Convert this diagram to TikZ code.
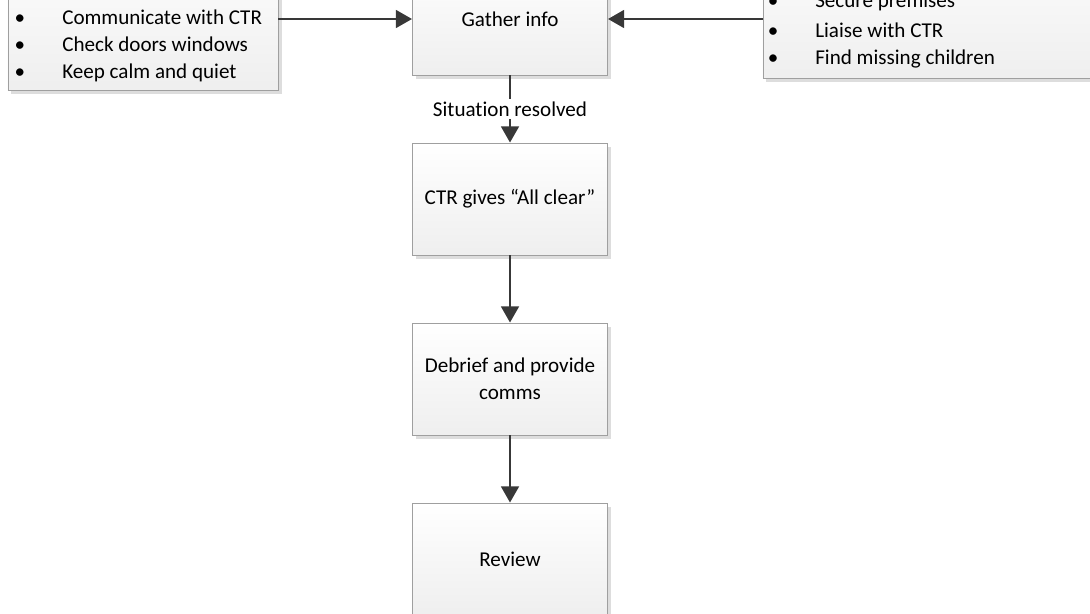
\documentclass[tikz,border=0pt]{standalone}
\usepackage{fontspec}
\setmainfont{Carlito}[Ligatures=NoCommon]
\usetikzlibrary{arrows.meta,shadows}

\tikzset{
  stepbox/.style={draw=gray!75, line width=0.6pt, top color=white, bottom color=gray!13,
    drop shadow={shadow xshift=2.5pt, shadow yshift=-2.5pt, fill=black!22, opacity=0.6},
    minimum width=4.875cm, minimum height=2.8cm, align=center, font=\fontsize{15}{19}\selectfont},
  listbox/.style={stepbox, align=left},
  flow/.style={draw=black!78, line width=2.1pt, -{Triangle[length=11.5pt,width=12.5pt]}},
  item/.style={anchor=base west, inner sep=0pt, font=\fontsize{15}{19}\selectfont},
}

\begin{document}
\begin{tikzpicture}[x=0.025cm,y=-0.025cm]
\useasboundingbox (0,0) rectangle (1090,613);
\clip (0,0) rectangle (1090,613);

\node[listbox, minimum width=6.75cm, minimum height=3.75cm] (actions) at (143,15) {};
\node[listbox, minimum width=8.675cm, minimum height=3.7cm] (police) at (936.5,4) {};

\foreach \name/\x/\y/\txt in {a1/62/24/Communicate with CTR, a2/62/51/Check doors windows, a3/62/78/Keep calm and quiet,
  p0/815/7/Secure premises, p1/815/37/Liaise with CTR, p2/815/64/Find missing children}
{
  \node[item] (\name) at (\x,\y) {\txt};
  \node[item, anchor=base] (\name b) at (\x-42,\y) {•};
}

\node[stepbox] (gather) at (510,19) {Gather info};
\node[stepbox] (clear) at (510,199) {CTR gives “All clear”};
\node[stepbox] (debrief) at (510,379) {Debrief and provide\\comms};
\node[stepbox] (review) at (510,559) {Review};

\draw[flow] (actions.east |- gather.west) -- (gather.west);
\draw[flow] (police.west |- gather.east) -- (gather.east);
\draw[flow] (gather) -- node[fill=white, inner sep=2pt, font=\fontsize{15}{19}\selectfont] (resolved) {Situation resolved} (clear);

\foreach \from/\to in {clear/debrief, debrief/review}
  \draw[flow] (\from) -- (\to);

\end{tikzpicture}
\end{document}
